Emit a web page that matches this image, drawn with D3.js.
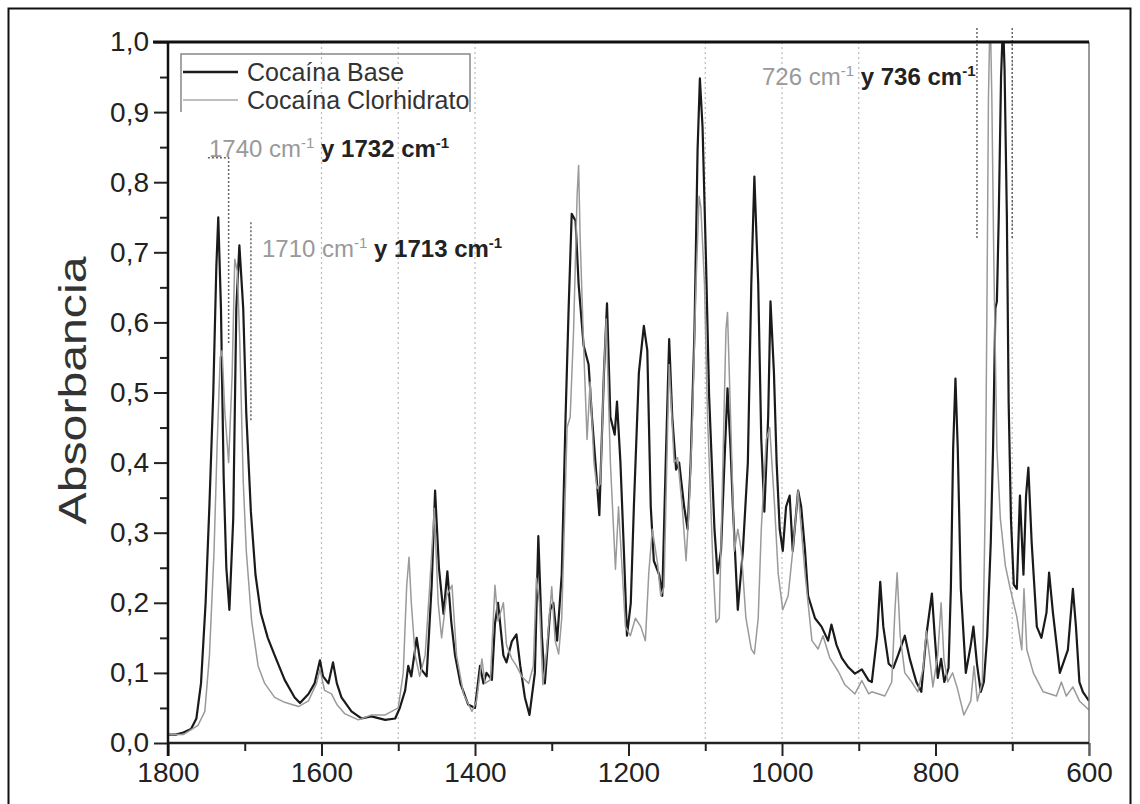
<!DOCTYPE html>
<html>
<head>
<meta charset="utf-8">
<script src="https://cdn.jsdelivr.net/npm/d3@7"></script>
<style>
  body { margin: 0; background: #fff; }
  svg { font-family: "Liberation Sans", Arial, sans-serif; }
</style>
</head>
<body>
<div class="chart"></div>
<script>
// spectra: [wavenumber cm-1, absorbance]
var cocainaBase = [
  [1800,0.012],[1790,0.012],[1780,0.015],[1770,0.02],[1763,0.035],[1757,0.085],[1751,0.2],[1746,0.34],
  [1741,0.5],[1737,0.68],[1734.5,0.75],[1731,0.62],[1727.5,0.38],[1724,0.25],[1720,0.19],[1715,0.32],
  [1711,0.62],[1707,0.71],[1702,0.62],[1698,0.47],[1692,0.33],[1686,0.24],[1679,0.185],[1670,0.15],
  [1661,0.125],[1648,0.09],[1635,0.065],[1628,0.057],[1617,0.07],[1609,0.085],[1602,0.118],[1598,0.095],
  [1591,0.085],[1585,0.115],[1580,0.085],[1574,0.065],[1561,0.045],[1548,0.035],[1535,0.038],[1517,0.033],
  [1504,0.035],[1498,0.05],[1491,0.075],[1487,0.11],[1483,0.095],[1476,0.15],[1470,0.105],[1463,0.095],
  [1456.5,0.224],[1452,0.36],[1447,0.25],[1441,0.184],[1436,0.245],[1431,0.174],[1426,0.125],[1419,0.085],
  [1409,0.055],[1400,0.05],[1393.5,0.11],[1389,0.085],[1385,0.1],[1378,0.09],[1374,0.17],[1370,0.2],
  [1363,0.125],[1359,0.115],[1352,0.145],[1346,0.155],[1341,0.11],[1335,0.065],[1329,0.04],[1322,0.1],
  [1317.5,0.295],[1313,0.155],[1309,0.085],[1302,0.19],[1298,0.2],[1293,0.146],[1287,0.24],[1282,0.465],
  [1278,0.62],[1274,0.755],[1269,0.745],[1265,0.655],[1258.5,0.567],[1252,0.54],[1247.6,0.465],[1241,0.37],
  [1238,0.325],[1232,0.528],[1228,0.627],[1223.6,0.465],[1218,0.44],[1215,0.487],[1210.5,0.4],[1206,0.274],
  [1202,0.153],[1197,0.2],[1193,0.337],[1186.5,0.528],[1180,0.595],[1175.5,0.56],[1171,0.337],[1167,0.26],
  [1160,0.24],[1156,0.21],[1151.5,0.4],[1147,0.576],[1143,0.465],[1138,0.39],[1134,0.4],[1127.5,0.337],
  [1123,0.305],[1119,0.4],[1114,0.59],[1110,0.846],[1107,0.948],[1103.5,0.878],[1099,0.687],[1095,0.496],
  [1088,0.305],[1084,0.242],[1079.5,0.274],[1075,0.4],[1071,0.506],[1067,0.42],[1064,0.337],[1057.6,0.19],
  [1051,0.274],[1044.5,0.4],[1040,0.655],[1036,0.808],[1031,0.655],[1027,0.433],[1023,0.33],[1018,0.465],
  [1015,0.63],[1010.5,0.528],[1007,0.4],[1003,0.305],[999,0.274],[994.7,0.337],[990,0.353],[986,0.274],
  [979,0.36],[975,0.337],[970,0.274],[966,0.21],[957,0.178],[948.5,0.166],[940,0.146],[935.6,0.169],
  [929,0.14],[922,0.121],[913.5,0.108],[905,0.099],[896,0.105],[887,0.089],[883,0.087],[876,0.153],
  [872,0.23],[868,0.166],[861,0.113],[855,0.107],[848.5,0.126],[840,0.153],[833.5,0.12],[825,0.087],
  [818.5,0.073],[812,0.153],[808,0.186],[804.7,0.213],[801,0.153],[797,0.093],[792.7,0.12],[788.5,0.087],
  [783,0.107],[780,0.22],[777,0.42],[774,0.52],[771,0.42],[767,0.22],[760.5,0.1],[754,0.14],
  [750.6,0.166],[746,0.113],[741,0.073],[737,0.087],[732.6,0.153],[728,0.286],[725,0.42],[722,0.62],
  [720,0.63],[717.6,0.75],[714.6,0.95],[712,1.03],[710,0.96],[707,0.75],[704.7,0.486],[701.7,0.32],
  [698,0.226],[694,0.22],[690,0.353],[685.4,0.24],[682,0.353],[679,0.393],[674.7,0.286],[668,0.166],
  [662,0.15],[655.4,0.186],[652,0.243],[647,0.186],[638,0.1],[627.5,0.133],[621,0.22],[617,0.166],
  [612.5,0.087],[608,0.073],[600,0.06]
];

var cocainaClorhidrato = [
  [1800,0.012],[1780,0.012],[1761,0.025],[1752,0.045],[1746,0.125],[1740,0.274],[1736,0.424],[1732,0.55],
  [1729.5,0.56],[1726,0.473],[1721,0.4],[1716.5,0.523],[1713,0.69],[1709.6,0.673],[1706.5,0.573],[1702,0.374],
  [1698,0.274],[1691,0.174],[1682.6,0.11],[1674,0.085],[1661,0.065],[1648,0.058],[1630,0.052],[1617,0.06],
  [1606.5,0.085],[1602,0.105],[1596,0.075],[1587,0.07],[1580,0.055],[1570,0.042],[1552,0.033],[1535,0.04],
  [1517,0.04],[1500,0.05],[1493.5,0.1],[1489,0.224],[1486,0.265],[1483,0.2],[1478,0.125],[1472,0.095],
  [1465,0.125],[1459,0.224],[1453,0.335],[1448,0.2],[1443.5,0.15],[1437,0.21],[1430,0.225],[1424,0.125],
  [1415,0.07],[1404,0.045],[1398,0.06],[1391,0.12],[1387,0.085],[1380,0.09],[1374,0.225],[1370,0.174],
  [1363,0.2],[1359,0.14],[1352,0.12],[1346,0.11],[1339,0.095],[1330,0.085],[1324,0.11],[1320,0.235],
  [1316,0.2],[1311.6,0.083],[1307,0.127],[1300,0.223],[1295.6,0.146],[1291,0.127],[1287,0.178],[1282,0.37],
  [1280,0.45],[1276,0.465],[1271.5,0.59],[1267,0.78],[1265,0.824],[1263,0.72],[1258.5,0.567],[1254,0.433],
  [1250,0.515],[1245,0.4],[1241,0.363],[1236.6,0.37],[1232,0.528],[1229,0.605],[1223.6,0.4],[1217,0.248],
  [1213,0.337],[1208,0.242],[1204,0.166],[1197.6,0.153],[1191,0.178],[1184,0.166],[1178,0.146],[1173.6,0.242],
  [1169,0.305],[1162,0.255],[1158,0.21],[1153.7,0.223],[1149,0.45],[1147,0.54],[1140.5,0.4],[1136,0.407],
  [1130,0.337],[1125,0.26],[1121,0.337],[1116.6,0.465],[1112,0.655],[1108,0.78],[1105.7,0.764],[1101,0.655],
  [1097,0.465],[1090,0.255],[1086,0.172],[1081.7,0.178],[1077,0.4],[1073,0.59],[1071,0.614],[1067,0.465],
  [1062,0.274],[1057.6,0.305],[1053,0.274],[1047,0.178],[1040,0.134],[1036,0.127],[1031,0.178],[1027,0.305],
  [1020.5,0.433],[1016,0.45],[1009.6,0.337],[1005,0.242],[999,0.19],[992,0.21],[986,0.274],[979,0.36],
  [970,0.242],[961,0.146],[953,0.134],[946.6,0.153],[937.6,0.121],[926.6,0.102],[918,0.083],[905,0.07],
  [896,0.089],[887,0.07],[883,0.073],[866,0.067],[857,0.087],[853,0.186],[850,0.243],[846,0.153],
  [840,0.1],[831,0.087],[823,0.073],[816,0.107],[812,0.16],[808,0.126],[803.4,0.08],[797,0.126],
  [792.7,0.2],[789,0.12],[784,0.087],[777.7,0.1],[772,0.08],[763,0.04],[754,0.06],[749.8,0.11],
  [745.5,0.06],[739,0.087],[735,0.353],[733,0.62],[731,0.92],[728.8,1.05],[726.6,0.92],[724,0.686],
  [720,0.42],[715.5,0.32],[709,0.253],[702.6,0.22],[694,0.18],[687.6,0.133],[684.7,0.22],[681,0.133],
  [672.5,0.1],[659.7,0.073],[642.5,0.067],[636,0.087],[629.6,0.067],[621,0.08],[612.5,0.06],[600,0.047]
];

var seriesNames = ["Cocaína Base", "Cocaína Clorhidrato"];
var xMajorTicks = [1800, 1600, 1400, 1200, 1000, 800, 600];
var xMinorTicks = [1700, 1500, 1300, 1100, 900, 700];
var yMajorTicks = [0, 0.1, 0.2, 0.3, 0.4, 0.5, 0.6, 0.7, 0.8, 0.9, 1.0];
var yMinorTicks = [0.05, 0.15, 0.25, 0.35, 0.45, 0.55, 0.65, 0.75, 0.85, 0.95];
var gridLines = [1600, 1500, 1400, 1100, 1000, 900, 700];

// setting up the chart
var widthSVG = 1140;
var heightSVG = 804;
var margins = { top: 42, right: 51, bottom: 61, left: 168 };
var width = widthSVG - margins.left - margins.right;
var height = heightSVG - margins.top - margins.bottom;

var svg = d3.select(".chart").append("svg")
  .attr("width", widthSVG)
  .attr("height", heightSVG);

// outer frame of the figure
svg.append("rect")
  .attr("x", 8.5).attr("y", 8.5)
  .attr("width", 1122).attr("height", 820)
  .attr("fill", "none")
  .attr("stroke", "#111")
  .attr("stroke-width", 2);

var g = svg.append("g")
  .attr("transform", `translate(${margins.left}, ${margins.top})`);

var x = d3.scaleLinear().domain([1800, 600]).range([0, width]);
var y = d3.scaleLinear().domain([0, 1]).range([height, 0]);

g.append("clipPath").attr("id", "plotClip")
  .append("rect").attr("x", 0).attr("y", 0).attr("width", width).attr("height", height);

// dotted vertical guides
g.selectAll(".grid")
  .data(gridLines)
  .enter().append("line")
  .attr("class", "grid")
  .attr("x1", d => x(d)).attr("x2", d => x(d))
  .attr("y1", 0).attr("y2", height)
  .attr("stroke", "#bbb")
  .attr("stroke-width", 1.2)
  .attr("stroke-dasharray", "2,3");

// annotation markers (dotted)
var markerStyle = sel => sel.attr("stroke", "#666").attr("stroke-width", 1.5).attr("stroke-dasharray", "2,2").attr("fill", "none");
g.append("path")
  .attr("d", `M${x(1748)},${y(0.835)} H${x(1721)} V${y(0.57)}`)
  .call(markerStyle);
g.append("line")
  .attr("x1", x(1692)).attr("x2", x(1692))
  .attr("y1", y(0.743)).attr("y2", y(0.46))
  .call(markerStyle);
[746, 700].forEach(function (w) {
  g.append("line")
    .attr("x1", x(w)).attr("x2", x(w))
    .attr("y1", y(1.02)).attr("y2", y(0.72))
    .call(markerStyle);
});

// spectra
var line = d3.line()
  .x(d => x(d[0]))
  .y(d => y(d[1]));

g.append("path")
  .datum(cocainaBase)
  .attr("clip-path", "url(#plotClip)")
  .attr("fill", "none")
  .attr("stroke", "#1a1a1a")
  .attr("stroke-width", 2.2)
  .attr("stroke-linejoin", "round")
  .attr("d", line);

g.append("path")
  .datum(cocainaClorhidrato)
  .attr("clip-path", "url(#plotClip)")
  .attr("fill", "none")
  .attr("stroke", "#9a9a9a")
  .attr("stroke-width", 1.5)
  .attr("stroke-linejoin", "round")
  .attr("d", line);

// axes
var commaFmt = d => d3.format(".1f")(d).replace(".", ",");

g.append("g")
  .attr("transform", `translate(0, ${height})`)
  .call(d3.axisBottom(x).tickValues(xMajorTicks).tickSize(13).tickPadding(6).tickFormat(d3.format("d")));
g.append("g")
  .attr("transform", `translate(0, ${height})`)
  .call(d3.axisBottom(x).tickValues(xMinorTicks).tickSize(8).tickFormat(""));

g.append("g")
  .call(d3.axisLeft(y).tickValues(yMajorTicks).tickSize(14).tickPadding(5).tickFormat(commaFmt));
g.append("g")
  .call(d3.axisLeft(y).tickValues(yMinorTicks).tickSize(8).tickFormat(""));

g.selectAll(".domain").remove();
g.selectAll(".tick line").attr("stroke", "#222").attr("stroke-width", 2);
g.selectAll(".tick text")
  .attr("fill", "#222")
  .style("font-family", "'Liberation Sans', Arial, sans-serif")
  .style("font-size", "28px");

// frame of the plot
g.append("line").attr("x1", width).attr("x2", width).attr("y1", 0).attr("y2", height + 13)
  .attr("stroke", "#777").attr("stroke-width", 1.5);
g.append("line").attr("x1", 0).attr("x2", width).attr("y1", height).attr("y2", height)
  .attr("stroke", "#222").attr("stroke-width", 2.5);
g.append("line").attr("x1", 0).attr("x2", 0).attr("y1", 0).attr("y2", height + 13)
  .attr("stroke", "#111").attr("stroke-width", 2.5);
g.append("line").attr("x1", -15).attr("x2", width).attr("y1", 0).attr("y2", 0)
  .attr("stroke", "#111").attr("stroke-width", 3);

// y axis title
g.append("text")
  .attr("transform", `translate(${-82}, ${height / 2 - 2}) rotate(-90)`)
  .attr("text-anchor", "middle")
  .attr("fill", "#333")
  .attr("textLength", 268)
  .attr("lengthAdjust", "spacingAndGlyphs")
  .style("font-size", "38px")
  .text("Absorbancia");

// legend
var legend = g.append("g").attr("transform", "translate(13, 12)");
legend.append("path")
  .attr("d", "M0,58 V0 H289 V58")
  .attr("fill", "none").attr("stroke", "#888").attr("stroke-width", 1.5);
var legendColors = ["#1a1a1a", "#aaa"];
var legendWidths = [2.5, 1.5];
seriesNames.forEach(function (name, i) {
  var ly = 18 + i * 28;
  legend.append("line")
    .attr("x1", 2).attr("x2", 57).attr("y1", ly).attr("y2", ly)
    .attr("stroke", legendColors[i]).attr("stroke-width", legendWidths[i]);
  legend.append("text")
    .attr("x", 66).attr("y", ly + 9)
    .attr("fill", "#333")
    .style("font-size", "25px")
    .text(name);
});

// peak annotations
var notes = [
  { x: 209, y: 157, clor: "1740", base: "1732" },
  { x: 262, y: 257, clor: "1710", base: "1713" },
  { x: 762, y: 85, clor: "726", base: "736" }
];
notes.forEach(function (n) {
  var t = svg.append("text")
    .attr("x", n.x).attr("y", n.y)
    .style("font-size", "24px");
  t.append("tspan").attr("fill", "#999").text(n.clor + " cm");
  t.append("tspan").attr("fill", "#999").attr("dy", -9).style("font-size", "15px").text("-1");
  t.append("tspan").attr("fill", "#222").attr("dy", 9).style("font-weight", "bold").text(" y " + n.base + " cm");
  t.append("tspan").attr("fill", "#222").attr("dy", -9).style("font-size", "15px").style("font-weight", "bold").text("-1");
});
</script>
</body>
</html>
